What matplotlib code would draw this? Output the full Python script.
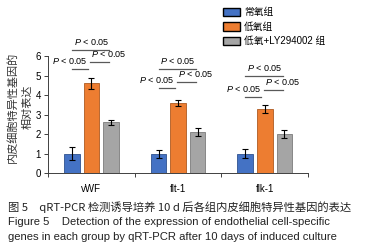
import numpy as np
import matplotlib
matplotlib.use("Agg")
import matplotlib.pyplot as plt
from matplotlib.patches import Patch

plt.rcParams['font.family'] = ['Liberation Sans', 'Noto Sans CJK SC', 'DejaVu Sans']
plt.rcParams['mathtext.fontset'] = 'custom'
plt.rcParams['mathtext.rm'] = 'Liberation Sans'
plt.rcParams['mathtext.it'] = 'Liberation Sans:italic'

# data
genes = ["vWF", "flt-1", "flk-1"]
groups = ["常氧组", "低氧组", "低氧+LY294002 组"]
normoxia = [1.0, 1.0, 1.0]
normoxia_err = [0.35, 0.2, 0.22]
hypoxia = [4.6, 3.6, 3.3]
hypoxia_err = [0.3, 0.15, 0.2]
hypoxia_ly = [2.6, 2.1, 2.0]
hypoxia_ly_err = [0.15, 0.2, 0.22]
# heights of the significance lines (top, orange-gray, blue-orange)
sig_top = [6.3, 5.33, 4.97]
sig_right = [5.7, 4.67, 4.26]
sig_left = [5.33, 4.36, 3.9]

colors = ["#4472C4", "#ED7D31", "#A5A5A5"]
edges = ["#2F528F", "#AE5A21", "#7B7B7B"]

fig = plt.figure(figsize=(3.66, 2.52), dpi=100)
ax = fig.add_axes([0.131, 0.313, 0.711, 0.464])

x = np.arange(len(genes))
w = 0.18
off = 0.225
series = [(normoxia, normoxia_err), (hypoxia, hypoxia_err), (hypoxia_ly, hypoxia_ly_err)]
for i, (vals, errs) in enumerate(series):
    ax.bar(x + (i - 1) * off, vals, w, color=colors[i], edgecolor=edges[i], linewidth=0.6,
           yerr=errs, error_kw=dict(ecolor='black', elinewidth=0.8, capsize=2, capthick=0.8))

# significance marks
ptxt = r"$\it{P}$ < 0.05"
lc = "#595959"
for i in range(len(genes)):
    xb, xo, xg = x[i] - off, x[i], x[i] + off
    ax.plot([xb, xg - 0.02], [sig_top[i]] * 2, color=lc, lw=0.9, clip_on=False)
    ax.text((xb + xg) / 2, sig_top[i] + 0.15, ptxt, ha='center', va='bottom', fontsize=6.5)
    ax.plot([xo - 0.01, xg - 0.02], [sig_right[i]] * 2, color=lc, lw=0.9, clip_on=False)
    ax.text(xo + 0.0, sig_right[i] + 0.15, ptxt, ha='left', va='bottom', fontsize=6.5)
    ax.plot([xb, xo - 0.04], [sig_left[i]] * 2, color=lc, lw=0.9, clip_on=False)
    ax.text(xo - 0.04, sig_left[i] + 0.15, ptxt, ha='right', va='bottom', fontsize=6.5)

ax.set_xlim(-0.5, 2.5)
ax.set_ylim(0, 6)
ax.set_yticks(range(0, 7))
ax.set_xticks(x)
ax.set_xticklabels(genes, fontsize=7)
ax.set_xticks([-0.5, 0.5, 1.5, 2.5], minor=True)
ax.tick_params(axis='x', which='major', length=0, pad=8)
ax.tick_params(axis='x', which='minor', length=3, width=0.7, color='#404040')
ax.tick_params(axis='y', labelsize=7, length=3, width=0.7, color='#404040', pad=2)
for s in ['top', 'right']:
    ax.spines[s].set_visible(False)
for s in ['left', 'bottom']:
    ax.spines[s].set_linewidth(0.7)
    ax.spines[s].set_color('#404040')

fig.text(20 / 366, 1 - 107 / 252, "内皮细胞特异性基因的\n相对表达", fontsize=8,
         family=['Noto Sans CJK SC'], rotation=90, ha='center', va='center',
         multialignment='center', linespacing=1.55, color='#333333')

handles = [Patch(facecolor=c, edgecolor='black', linewidth=1.0) for c in colors]
fig.legend(handles, groups, loc='upper left', bbox_to_anchor=(0.585, 1.005), frameon=False,
           prop={'family': ['Liberation Sans', 'Noto Sans CJK SC'], 'size': 7},
           handlelength=1.75, handleheight=0.9, labelspacing=0.45, handletextpad=0.4)

cap = dict(fontsize=8.1, va='center', color='#222222')
fig.text(0.022, 0.178, "图 5　qRT-PCR 检测诱导培养 10 d 后各组内皮细胞特异性基因的表达",
         family=['Noto Sans CJK SC'], **cap)
fig.text(0.022, 0.118, "Figure 5    Detection of the expression of endothelial cell-specific", **cap)
fig.text(0.022, 0.058, "genes in each group by qRT-PCR after 10 days of induced culture", **cap)

fig.savefig("out.png", dpi=100)
